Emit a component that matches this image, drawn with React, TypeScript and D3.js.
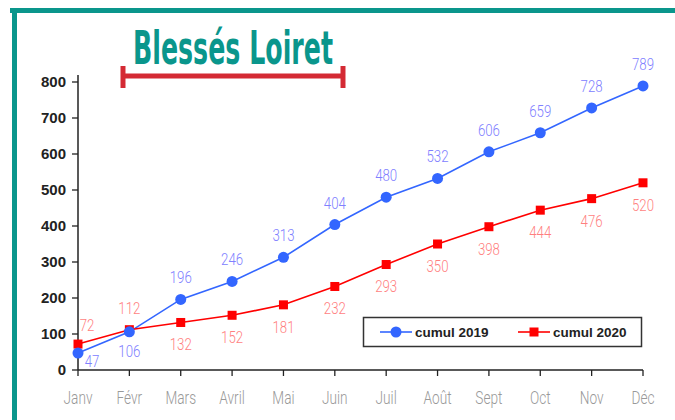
import React from "react";
import * as d3 from "d3";

const months = ["Janv", "Févr", "Mars", "Avril", "Mai", "Juin", "Juil", "Août", "Sept", "Oct", "Nov", "Déc"];
const cumul2019 = [47, 106, 196, 246, 313, 404, 480, 532, 606, 659, 728, 789];
const cumul2020 = [72, 112, 132, 152, 181, 232, 293, 350, 398, 444, 476, 520];
const yTicks = [0, 100, 200, 300, 400, 500, 600, 700, 800];

const TEAL = "#0a968c";
const BLUE = "#3366ff";
const RED = "#ff0000";
const BLUE_LBL = "#8080ff";
const RED_LBL = "#ff7f7f";
const THIN = "Roboto, 'DejaVu Sans', sans-serif";

function Narrow(props: { x: number; y: number; fill: string; size: number; children: React.ReactNode }) {
  return (
    <g transform={`translate(${props.x},${props.y}) scale(0.78,1)`}>
      <text x={0} y={0} dy="0.35em" textAnchor="middle" fontFamily={THIN} fontWeight={300}
        fontSize={props.size} fill={props.fill}>{props.children}</text>
    </g>
  );
}

export default function App() {
  const W = 675, H = 420;
  const x = d3.scalePoint<string>().domain(months).range([78, 643]);
  const y = d3.scaleLinear().domain([0, 800]).range([370, 82]);
  const line = d3.line<number>().x((_, i) => x(months[i])!).y((d) => y(d));

  const blueOff = cumul2019.map((_, i) => (i === 0 ? [14, 8] : i === 1 ? [0, 19] : [0, -22]));
  const redOff = cumul2020.map((_, i) => (i === 0 ? [9, -19] : i === 1 ? [0, -22] : [0, 22]));

  return (
    <svg width={W} height={H} style={{ position: "absolute", left: 0, top: 0, background: "#fff" }}>
      <rect x={0} y={0} width={W} height={H} fill="#fff" />
      <rect x={10} y={8} width={W} height={5} fill={TEAL} />
      <rect x={12} y={8} width={5} height={H} fill={TEAL} />
      <text x={133} y={64} fill={TEAL} fontFamily="'DejaVu Sans Condensed', sans-serif" fontWeight="bold"
        fontSize={46} textLength={200} lengthAdjust="spacingAndGlyphs">Blessés Loiret</text>
      <g stroke="#d42a34" strokeWidth={5}>
        <line x1={121} x2={345} y1={76} y2={76} />
        <line x1={123} x2={123} y1={66} y2={88} />
        <line x1={343} x2={343} y1={66} y2={88} />
      </g>
      <line x1={78} x2={78} y1={75} y2={370} stroke="#222" strokeWidth={1.5} />
      {yTicks.map((t) => (
        <g key={t}>
          <line x1={72} x2={78} y1={y(t)} y2={y(t)} stroke="#222" strokeWidth={1.3} />
          <text x={66} y={y(t)} dy="0.35em" textAnchor="end" fontFamily="'Liberation Sans', Arial, sans-serif"
            fontWeight="bold" fontSize={15} fill="#222">{t}</text>
        </g>
      ))}
      <line x1={78} x2={643} y1={370} y2={370} stroke="#222" strokeWidth={1.5} />
      {months.map((m) => (
        <g key={m}>
          <line x1={x(m)} x2={x(m)} y1={370} y2={376} stroke="#222" strokeWidth={1.3} />
          <Narrow x={x(m)!} y={398} fill="#999" size={17.5}>{m}</Narrow>
        </g>
      ))}
      <path d={line(cumul2019)!} fill="none" stroke={BLUE} strokeWidth={1.6} />
      <path d={line(cumul2020)!} fill="none" stroke={RED} strokeWidth={1.6} />
      {cumul2020.map((v, i) => (
        <rect key={"r" + i} x={x(months[i])! - 4.5} y={y(v) - 4.5} width={9} height={9} fill={RED} />
      ))}
      {cumul2019.map((v, i) => (
        <circle key={"c" + i} cx={x(months[i])} cy={y(v)} r={5.5} fill={BLUE} />
      ))}
      {cumul2019.map((v, i) => (
        <Narrow key={"bl" + i} x={x(months[i])! + blueOff[i][0]} y={y(v) + blueOff[i][1]} fill={BLUE_LBL} size={17}>{v}</Narrow>
      ))}
      {cumul2020.map((v, i) => (
        <Narrow key={"rl" + i} x={x(months[i])! + redOff[i][0]} y={y(v) + redOff[i][1]} fill={RED_LBL} size={17}>{v}</Narrow>
      ))}
      <rect x={363.5} y={317.5} width={278} height={29} fill="#fff" stroke="#333" strokeWidth={1.5} />
      <line x1={380} x2={412} y1={332} y2={332} stroke={BLUE} strokeWidth={1.6} />
      <circle cx={396} cy={332} r={5.5} fill={BLUE} />
      <text x={415} y={332} dy="0.35em" fontFamily="'Liberation Sans', Arial, sans-serif" fontWeight="bold"
        fontSize={13.5} fill="#222">cumul 2019</text>
      <line x1={518} x2={550} y1={332} y2={332} stroke={RED} strokeWidth={1.6} />
      <rect x={529.5} y={327.5} width={9} height={9} fill={RED} />
      <text x={553} y={332} dy="0.35em" fontFamily="'Liberation Sans', Arial, sans-serif" fontWeight="bold"
        fontSize={13.5} fill="#222">cumul 2020</text>
    </svg>
  );
}
